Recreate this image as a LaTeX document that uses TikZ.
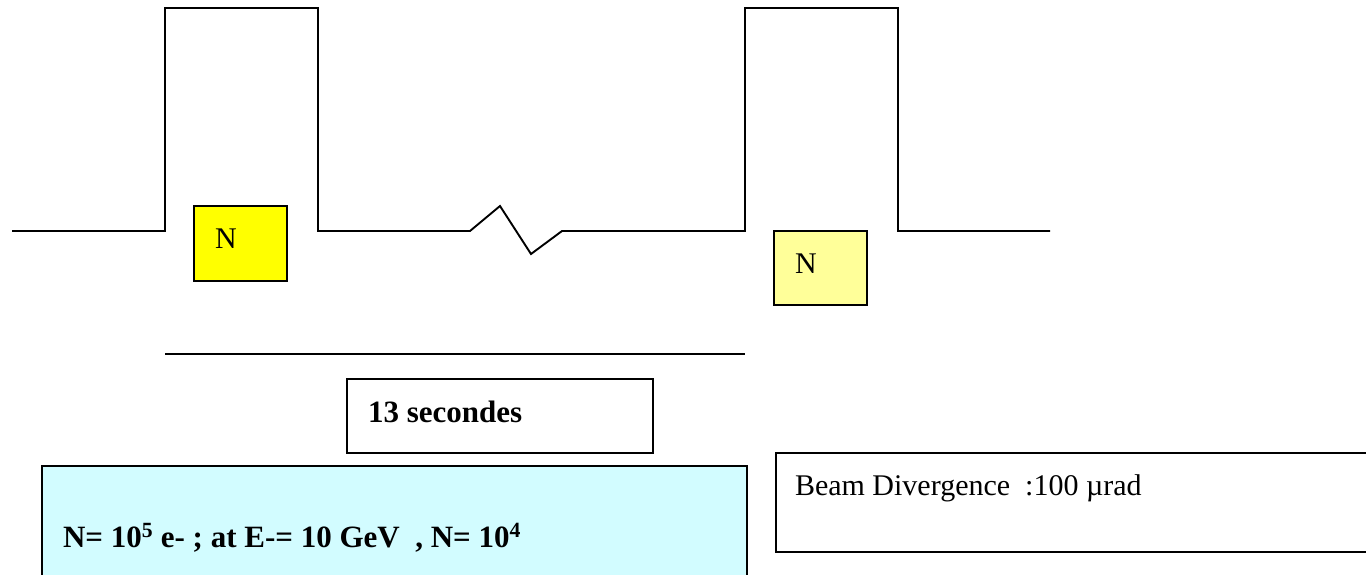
\documentclass[tikz,border=0pt]{standalone}
\usepackage{fontspec}
\setmainfont{Liberation Serif}
\definecolor{yel}{RGB}{255,255,0}
\definecolor{paleyel}{RGB}{255,255,153}
\definecolor{cyanbox}{RGB}{210,252,255}
\tikzset{
  wave/.style={line width=1.9pt, line join=miter},
  boxed/.style={draw=black, line width=1.9pt, inner sep=0pt, outer sep=0pt},
  txt/.style={inner sep=0pt, outer sep=0pt, anchor=base west, font=\fontsize{30}{36}\selectfont},
  btxt/.style={txt, font=\fontsize{31}{36}\selectfont\bfseries},
}
\begin{document}
\begin{tikzpicture}[x=1pt,y=-1pt]
\useasboundingbox (0,0) rectangle (1366,574);
% waveform
\coordinate (w0) at (12,231);
\coordinate (w1) at (165,231);
\coordinate (w2) at (165,8);
\coordinate (w3) at (318,8);
\coordinate (w4) at (318,231);
\coordinate (z0) at (470,231);
\coordinate (z1) at (500,206);
\coordinate (z2) at (531,254);
\coordinate (z3) at (562,231);
\coordinate (w5) at (745,231);
\coordinate (w6) at (745,8);
\coordinate (w7) at (898,8);
\coordinate (w8) at (898,231);
\coordinate (w9) at (1050,231);
\draw[wave] (w0) -- (w1) -- (w2) -- (w3) -- (w4) -- (z0) -- (z1) -- (z2) -- (z3) -- (w5) -- (w6) -- (w7) -- (w8) -- (w9);
% N boxes
\node[boxed, fill=yel, minimum width=93pt, minimum height=75pt, anchor=north west] (nb1) at (194,206) {};
\node[txt] (n1) at (215,248) {N};
\node[boxed, fill=paleyel, minimum width=93pt, minimum height=74pt, anchor=north west] (nb2) at (774,231) {};
\node[txt] (n2) at (795,273) {N};
% span line
\coordinate (s0) at (165,354);
\coordinate (s1) at (745,354);
\draw[wave] (s0) -- (s1);
% 13 secondes
\node[boxed, fill=white, minimum width=306pt, minimum height=74pt, anchor=north west] (tb) at (347,379) {};
\node[btxt] (tt) at (368,422) {13 secondes};
% cyan box
\node[boxed, fill=cyanbox, minimum width=705pt, minimum height=130pt, anchor=north west] (cb) at (42,466) {};
\node[btxt] (ct) at (63,547) {N= 10\textsuperscript{5} e- ; at E-= 10 GeV~ , N= 10\textsuperscript{4}};
% beam box
\node[boxed, fill=white, minimum width=600pt, minimum height=99pt, anchor=north west] (bb) at (776,453) {};
\node[txt] (bt) at (795,495) {Beam Divergence~ :100 µrad};
\end{tikzpicture}
\end{document}
